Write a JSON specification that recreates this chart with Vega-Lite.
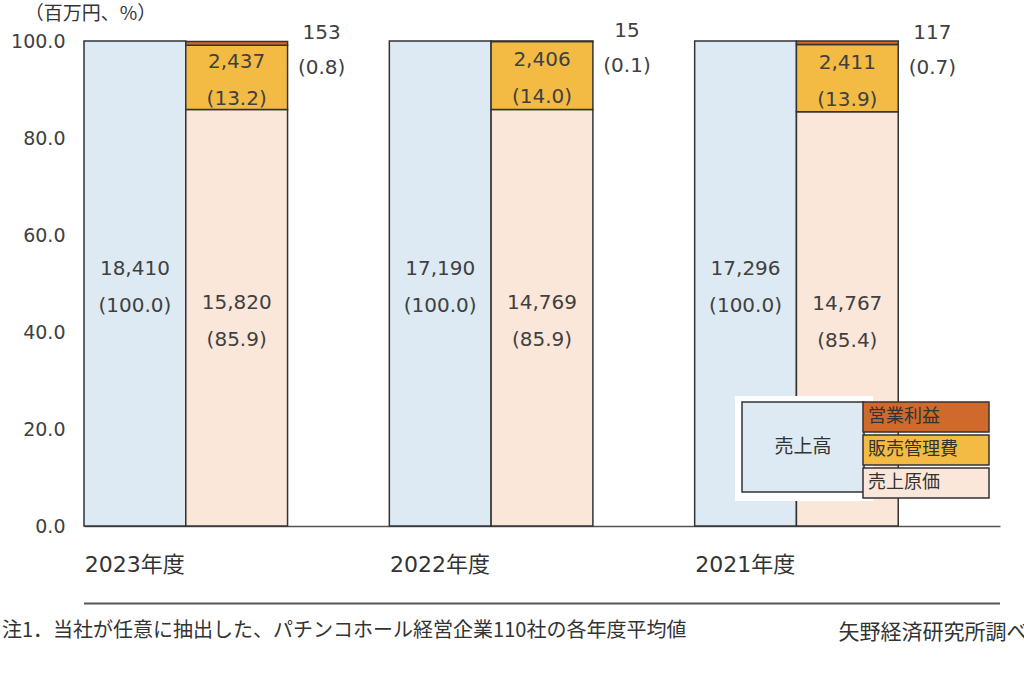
{
  "$schema": "https://vega.github.io/schema/vega-lite/v6.json",
  "width": 916,
  "height": 485,
  "autosize": {"type": "none"},
  "padding": {"left": 84, "top": 41, "right": 24, "bottom": 165},
  "background": "white",
  "config": {"view": {"stroke": null}, "font": "DejaVu Sans"},
  "title": {
    "text": "注1．当社が任意に抽出した、パチンコホール経営企業110社の各年度平均値",
    "orient": "bottom",
    "anchor": "start",
    "frame": "group",
    "dx": -82,
    "dy": -25,
    "font": "Noto Sans CJK JP",
    "fontSize": 20,
    "fontWeight": "normal",
    "color": "#333333"
  },
  "data": {
    "values": [
      {"year": "2023年度", "kind": "売上高", "item": "売上高", "amount": 18410, "pct": 100.0},
      {"year": "2023年度", "kind": "内訳", "item": "売上原価", "amount": 15820, "pct": 85.9},
      {"year": "2023年度", "kind": "内訳", "item": "販売管理費", "amount": 2437, "pct": 13.2},
      {"year": "2023年度", "kind": "内訳", "item": "営業利益", "amount": 153, "pct": 0.8},
      {"year": "2022年度", "kind": "売上高", "item": "売上高", "amount": 17190, "pct": 100.0},
      {"year": "2022年度", "kind": "内訳", "item": "売上原価", "amount": 14769, "pct": 85.9},
      {"year": "2022年度", "kind": "内訳", "item": "販売管理費", "amount": 2406, "pct": 14.0},
      {"year": "2022年度", "kind": "内訳", "item": "営業利益", "amount": 15, "pct": 0.1},
      {"year": "2021年度", "kind": "売上高", "item": "売上高", "amount": 17296, "pct": 100.0},
      {"year": "2021年度", "kind": "内訳", "item": "売上原価", "amount": 14767, "pct": 85.4},
      {"year": "2021年度", "kind": "内訳", "item": "販売管理費", "amount": 2411, "pct": 13.9},
      {"year": "2021年度", "kind": "内訳", "item": "営業利益", "amount": 117, "pct": 0.7}
    ]
  },
  "transform": [
    {"calculate": "indexof(['売上原価','販売管理費','営業利益'], datum.item)", "as": "rank"},
    {"calculate": "format(datum.amount, ',') + '\\n(' + format(datum.pct, '.1f') + ')'", "as": "label"}
  ],
  "layer": [
    {
      "mark": {"type": "bar", "strokeWidth": 1.5},
      "encoding": {
        "x": {
          "field": "year",
          "type": "nominal",
          "scale": {"domain": ["2023年度", "2022年度", "2021年度"], "paddingInner": 0, "paddingOuter": 0},
          "axis": {
            "title": "矢野経済研究所調べ",
            "titleX": 754,
            "titleY": 106,
            "titleAlign": "left",
            "titleBaseline": "middle",
            "titleFont": "Noto Sans CJK JP",
            "titleFontSize": 21,
            "titleFontWeight": "normal",
            "titleColor": "#333333",
            "labelAlign": "left",
            "labelAngle": 0,
            "labelOffset": -152,
            "labelPadding": 28,
            "labelFontSize": 22,
            "labelColor": "#333333",
            "labelFont": "DejaVu Sans, Noto Sans CJK JP",
            "ticks": false,
            "domainColor": "#555555",
            "domainWidth": 1.5
          }
        },
        "xOffset": {
          "field": "kind",
          "type": "nominal",
          "scale": {"domain": ["売上高", "内訳", "空"], "paddingInner": 0, "paddingOuter": 0}
        },
        "y": {
          "field": "pct",
          "type": "quantitative",
          "stack": "zero",
          "scale": {"domain": [0, 100], "nice": false},
          "axis": {
            "values": [0, 20, 40, 60, 80, 100],
            "format": ".1f",
            "domain": false,
            "ticks": false,
            "tickSize": 0,
            "grid": false,
            "labelPadding": 19,
            "labelFontSize": 19,
            "labelColor": "#404040",
            "title": "（百万円、%）",
            "titleAngle": 0,
            "titleX": 6,
            "titleY": -28,
            "titleAlign": "center",
            "titleBaseline": "middle",
            "titleFont": "Noto Sans CJK JP",
            "titleFontSize": 19,
            "titleFontWeight": "normal",
            "titleColor": "#333333"
          }
        },
        "fill": {
          "field": "item",
          "type": "nominal",
          "scale": {
            "domain": ["売上高", "営業利益", "販売管理費", "売上原価"],
            "range": ["#ddeaf3", "#cf6a2c", "#f4bb44", "#fbe7d9"]
          },
          "legend": {
            "values": ["営業利益", "販売管理費", "売上原価"],
            "title": null,
            "orient": "none",
            "legendX": 778,
            "legendY": 361,
            "direction": "vertical",
            "symbolType": "M-1,-1.016H1V-0.54H-1Z",
            "symbolSize": 15876,
            "symbolStrokeColor": "#333333",
            "symbolStrokeWidth": 1.5,
            "symbolOpacity": 1,
            "rowPadding": -8,
            "labelOffset": -122,
            "labelAlign": "left",
            "labelFont": "Noto Sans CJK JP",
            "labelFontSize": 18,
            "labelColor": "#333333",
            "padding": 0,
            "zindex": 2,
            "encode": {"labels": {"update": {"dy": {"value": -49}}}}
          }
        },
        "stroke": {
          "field": "kind",
          "type": "nominal",
          "scale": {"domain": ["売上高", "内訳"], "range": ["#333333", "#333333"]},
          "legend": {
            "values": ["売上高"],
            "title": null,
            "orient": "none",
            "legendX": 651,
            "legendY": 355,
            "symbolType": "M-1,-1.016H1V0.459H-1Z",
            "symbolSize": 14884,
            "symbolStrokeWidth": 1.5,
            "symbolFillColor": "#ddeaf3",
            "labelOffset": -62,
            "labelAlign": "center",
            "labelFont": "Noto Sans CJK JP",
            "labelFontSize": 19,
            "labelColor": "#333333",
            "padding": 6,
            "fillColor": "white",
            "zindex": 1,
            "encode": {
              "symbols": {"update": {"fill": {"value": "#ddeaf3"}, "stroke": {"value": "#333333"}, "opacity": {"value": 1}}},
              "labels": {"update": {"dy": {"value": -17}}}
            }
          }
        },
        "order": {"field": "rank", "type": "quantitative"}
      }
    },
    {
      "transform": [{"filter": "datum.item !== '営業利益'"}],
      "mark": {"type": "text", "font": "DejaVu Sans", "fontSize": 20, "lineBreak": "\n", "lineHeight": 37, "color": "#404040", "baseline": "middle", "dy": -15},
      "encoding": {
        "x": {"field": "year", "type": "nominal"},
        "xOffset": {"field": "kind", "type": "nominal"},
        "y": {"field": "pct", "type": "quantitative", "stack": "zero", "bandPosition": 0.5},
        "detail": {"field": "item"},
        "order": {"field": "rank", "type": "quantitative"},
        "text": {"field": "label"}
      }
    },
    {
      "transform": [{"filter": "datum.kind === '内訳'"}],
      "mark": {"type": "text", "font": "DejaVu Sans", "fontSize": 20, "lineBreak": "\n", "lineHeight": 35, "color": "#404040", "baseline": "middle", "dx": 85, "dy": -10},
      "encoding": {
        "x": {"field": "year", "type": "nominal"},
        "xOffset": {"field": "kind", "type": "nominal"},
        "y": {"field": "pct", "type": "quantitative", "stack": "zero", "bandPosition": 0.5},
        "detail": {"field": "item"},
        "order": {"field": "rank", "type": "quantitative"},
        "text": {"condition": {"test": "datum.item === '営業利益'", "field": "label"}, "value": ""}
      }
    },
    {
      "data": {"values": [{}]},
      "mark": {"type": "rule", "color": "#555555", "strokeWidth": 2},
      "encoding": {"y": {"datum": -16, "type": "quantitative"}}
    }
  ]
}
